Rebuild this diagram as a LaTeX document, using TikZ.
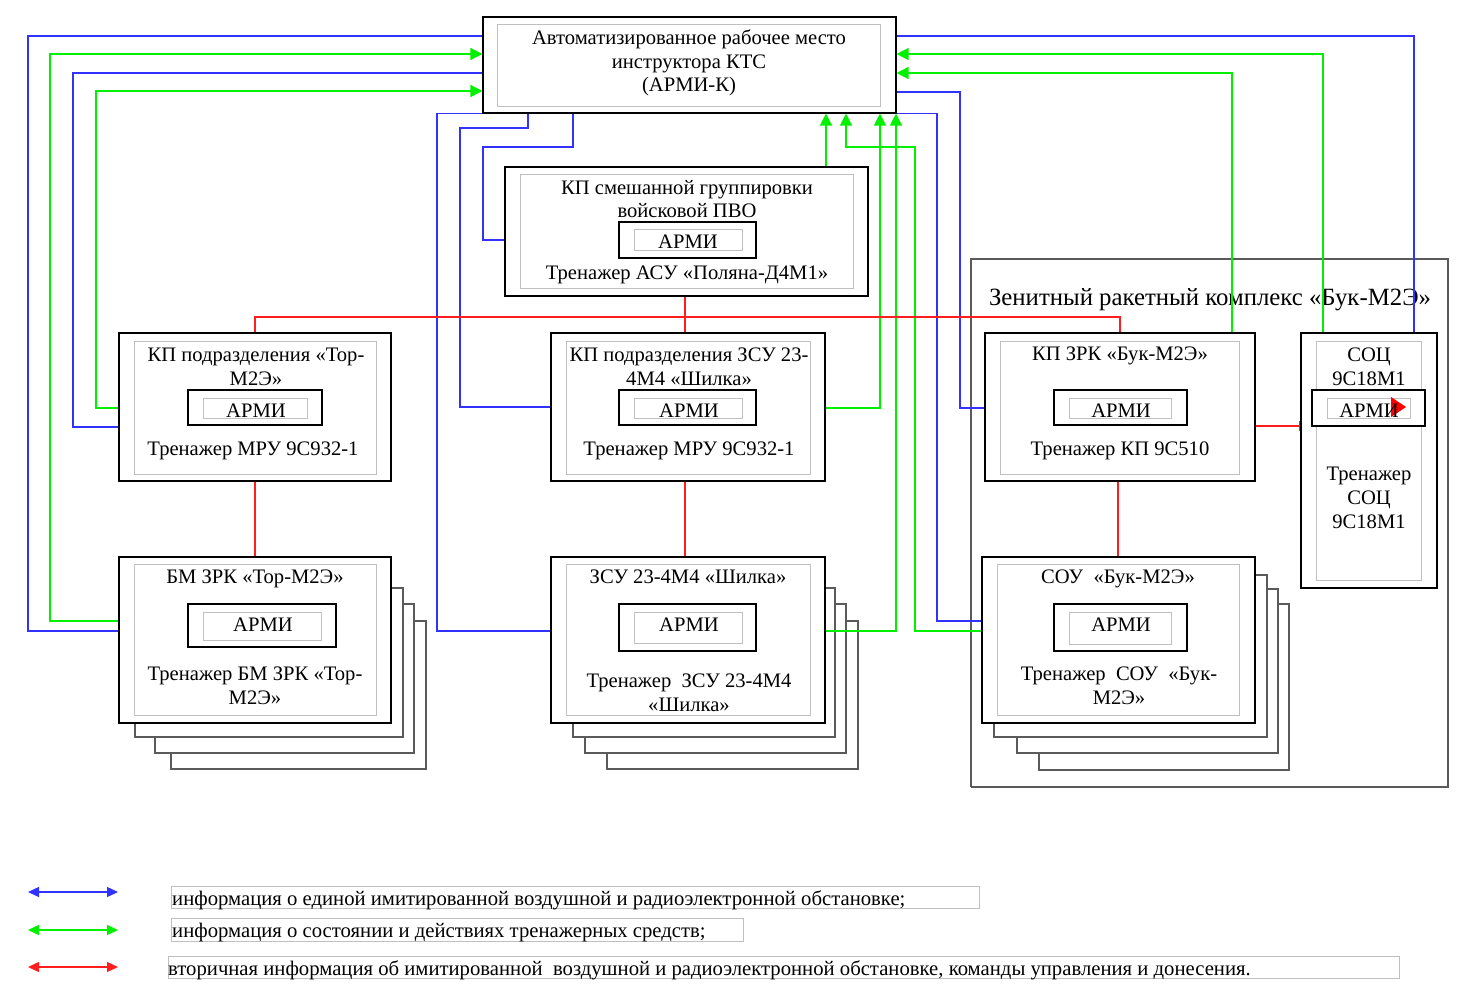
\documentclass[tikz,border=0pt]{standalone}
\usepackage{fontspec}
\setmainfont{Liberation Serif}
\usetikzlibrary{arrows.meta,calc}
\definecolor{cb}{RGB}{50,50,255}
\definecolor{cg}{RGB}{0,240,0}
\definecolor{cr}{RGB}{255,30,30}
\definecolor{cin}{RGB}{192,192,192}
\definecolor{cgrp}{RGB}{90,90,90}
\newcommand\fs{\fontsize{20.6}{23.7}\selectfont}
\newcommand\tfs{\fontsize{24.8}{28}\selectfont}
\newcommand\lfs{\fontsize{20.7}{24}\selectfont}
\newcommand\obox[5]{\node[ob,minimum width=#4,minimum height=#5] (#1) at (#2,#3) {};}
\newcommand\ibox[5]{\node[ib,minimum width=#4,minimum height=#5] (#1) at (#2,#3) {};}
\tikzset{
  ob/.style={draw=black, line width=1.1pt, fill=white, inner sep=0pt},
  ib/.style={draw=cin, line width=1pt, inner sep=0pt},
  bk/.style={draw=cgrp, line width=1.1pt, fill=white},
  txt/.style={align=center, inner sep=0pt, font=\fs},
  one/.style={inner sep=0pt, font=\fs, text height=14pt, text depth=4pt},
  lnb/.style={draw=cb, line width=1.3pt},
  lng/.style={draw=cg, line width=1.3pt, -{Triangle[length=12pt,width=12pt]}},
  lnr/.style={draw=cr, line width=1.2pt},
  leg/.style={line width=1.4pt, {Triangle[length=11pt,width=10pt]}-{Triangle[length=11pt,width=10pt]}},
  lt/.style={inner sep=0pt, font=\lfs, text height=14pt, text depth=4pt, anchor=west},
}
\begin{document}
\begin{tikzpicture}[x=1pt,y=-1pt]
\useasboundingbox (0,0) rectangle (1474,998);
% group frame
\draw[draw=cgrp, line width=1.1pt] (971,787) -- (971,259) -- (1448,259) -- (1448,787) -- (971,787);
\node[inner sep=0pt, font=\tfs, text height=16pt, text depth=5pt] (grpt) at (1210,300) {Зенитный ракетный комплекс «Бук-М2Э»};
% back cards
\draw[bk] (171,621) rectangle (426,769);
\draw[bk] (155,604) rectangle (414,753);
\draw[bk] (135,588) rectangle (403,737);
\draw[bk] (607,621) rectangle (858,769);
\draw[bk] (585,604) rectangle (846,753);
\draw[bk] (573,588) rectangle (835,737);
\draw[bk] (1039,604) rectangle (1289,770);
\draw[bk] (1017,589) rectangle (1278,753);
\draw[bk] (994,575) rectangle (1267,737);
% boxes
\obox{top}{689.5}{65}{413}{96}
\ibox{topi}{688.5}{65.5}{383}{81}
\obox{kpsm}{686.5}{231.5}{363}{129}
\ibox{kpsmi}{686.5}{231}{333}{114}
\obox{kpsma}{687.5}{240}{137}{36}
\ibox{kpsmai}{688}{239.5}{108}{21}
\obox{kptor}{255}{407}{272}{148}
\ibox{kptori}{255}{407.5}{242}{133}
\obox{kptora}{255}{407.5}{134}{35}
\ibox{kptorai}{255}{408}{104}{20}
\obox{bm}{255}{640}{272}{166}
\ibox{bmi}{255}{639.5}{242}{151}
\obox{bma}{262}{625.5}{148}{43}
\ibox{bmai}{262}{626}{118}{28}
\obox{kpsh}{688}{407}{274}{148}
\ibox{kpshi}{688}{407.5}{244}{133}
\obox{kpsha}{687.5}{407.5}{137}{35}
\ibox{kpshai}{688}{408}{108}{20}
\obox{zsu}{688}{640}{274}{166}
\ibox{zsui}{688}{639.5}{244}{151}
\obox{zsua}{687.5}{627.5}{137}{47}
\ibox{zsuai}{688}{627.5}{108}{31}
\obox{kpzrk}{1120}{407}{270}{148}
\ibox{kpzrki}{1119.5}{407.5}{239}{133}
\obox{kpzrka}{1120.5}{407.5}{133}{35}
\ibox{kpzrkai}{1120}{408}{102}{20}
\obox{soc}{1369}{460.5}{136}{255}
\ibox{soci}{1368.5}{460.5}{105}{239}
\obox{soca}{1368.5}{408}{113}{36}
\ibox{socai}{1368.5}{408}{83}{20}
\obox{sou}{1118.5}{640}{273}{166}
\ibox{soui}{1118}{639.5}{242}{151}
\obox{soua}{1120.5}{627.5}{133}{47}
\ibox{souai}{1120}{628}{102}{32}
% blue connectors
\draw[lnb] (top.west |- 0,36) -| (28,631) -- (bm.west |- 0,631);
\draw[lnb] (top.west |- 0,73) -| (73,427) -- (kptor.west |- 0,427);
\draw[lnb] (top.south west) -| (437,631) -- (zsu.west |- 0,631);
\draw[lnb] (top.south -| 528,0) |- (460,128) |- (kpsh.west |- 0,407);
\draw[lnb] (top.south -| 573,0) |- (483,147) |- (kpsm.west |- 0,240);
\draw[lnb] (top.east |- 0,92) -| (960,408) -- (kpzrk.west |- 0,408);
\draw[lnb] (top.south east) -| (937,621) -- (sou.west |- 0,621);
\draw[lnb] (top.east |- 0,36) -| (soc.north -| 1414,0);
% green connectors
\draw[lng] (bm.west |- 0,621) -| (50,54) -- (top.west |- 0,54);
\draw[lng] (kptor.west |- 0,408) -| (96,91) -- (top.west |- 0,91);
\draw[lng] (kpsm.north -| 826,0) -- (top.south -| 826,0);
\draw[lng] (sou.west |- 0,631) -| (915,147) -| (top.south -| 846,0);
\draw[lng] (kpsh.east |- 0,408) -| (top.south -| 880,0);
\draw[lng] (zsu.east |- 0,631) -| (top.south -| 896,0);
\draw[lng] (soc.north -| 1323,0) |- (top.east |- 0,54);
\draw[lng] (kpzrk.north -| 1232,0) |- (top.east |- 0,73);
% red connectors
\draw[lnr] (kptor.north) |- (kpzrk.north |- 0,317) -- (kpzrk.north);
\draw[lnr] (kpsm.south -| 685,0) -- (kpsh.north -| 685,0);
\draw[lnr] (kptor.south) -- (bm.north);
\draw[lnr] (kpsh.south -| 685,0) -- (zsu.north -| 685,0);
\draw[lnr] (kpzrk.south -| 1118,0) -- (sou.north -| 1118,0);
\draw[lnr, -{Bar[width=10pt]}] (kpzrk.east |- 0,426) -- (soc.west |- 0,426);
\fill[red] (1391,397) -- (1406,407) -- (1391,417) -- cycle;
% texts
\begin{scope}[yshift=-2pt]
\node[txt] (ttop) at (689,61) {Автоматизированное рабочее место\\инструктора КТС\\(АРМИ-К)};
\node[txt] (tkpsm) at (687,197) {КП смешанной группировки\\войсковой ПВО};
\node[one] (tkpsma) at (688,241) {АРМИ};
\node[one] (tkpsmb) at (687,272) {Тренажер АСУ «Поляна-Д4М1»};
\node[txt] (tkptor) at (256,365) {КП подразделения «Тор-\\М2Э»};
\node[one] (tkptora) at (256,410) {АРМИ};
\node[one] (tkptorb) at (253,448) {Тренажер МРУ 9С932-1};
\node[one] (tbm) at (255,576) {БМ ЗРК «Тор-М2Э»};
\node[one] (tbma) at (263,624) {АРМИ};
\node[txt] (tbmb) at (255,683.5) {Тренажер БМ ЗРК «Тор-\\М2Э»};
\node[txt] (tkpsh) at (689,365) {КП подразделения ЗСУ 23-\\4М4 «Шилка»};
\node[one] (tkpsha) at (689,410) {АРМИ};
\node[one] (tkpshb) at (689,448) {Тренажер МРУ 9С932-1};
\node[one] (tzsu) at (688,576) {ЗСУ 23-4М4 «Шилка»};
\node[one] (tzsua) at (689,624) {АРМИ};
\node[txt] (tzsub) at (689,691) {Тренажер\ \ ЗСУ 23-4М4\\«Шилка»};
\node[one] (tkpzrk) at (1120,353) {КП ЗРК «Бук-М2Э»};
\node[one] (tkpzrka) at (1121,410) {АРМИ};
\node[one] (tkpzrkb) at (1120,448) {Тренажер КП 9С510};
\node[txt] (tsoc) at (1369,365) {СОЦ\\9С18М1};
\node[one] (tsoca) at (1369,410) {АРМИ};
\node[txt] (tsocb) at (1369,496) {Тренажер\\СОЦ\\9С18М1};
\node[one] (tsou) at (1118,576) {СОУ\ \ «Бук-М2Э»};
\node[one] (tsoua) at (1121,624) {АРМИ};
\node[txt] (tsoub) at (1119,683.5) {Тренажер\ \ СОУ\ \ «Бук-\\М2Э»};
\end{scope}
% legend
\coordinate (l1a) at (28,892); \coordinate (l1b) at (118,892);
\coordinate (l2a) at (28,930); \coordinate (l2b) at (118,930);
\coordinate (l3a) at (28,967); \coordinate (l3b) at (118,967);
\draw[leg, cb] (l1a) -- (l1b);
\draw[leg, cg] (l2a) -- (l2b);
\draw[leg, cr] (l3a) -- (l3b);
\node[ib, minimum width=808, minimum height=22, anchor=north west] (lg1) at (171,886) {};
\node[ib, minimum width=572, minimum height=23, anchor=north west] (lg2) at (171,918) {};
\node[ib, minimum width=1231, minimum height=22, anchor=north west] (lg3) at (168,956) {};
\node[lt] (lt1) at ([xshift=1pt,yshift=-2.5pt]lg1.west) {информация о единой имитированной воздушной и радиоэлектронной обстановке;};
\node[lt] (lt2) at ([xshift=1pt,yshift=-2.5pt]lg2.west) {информация о состоянии и действиях тренажерных\ средств;};
\node[lt] (lt3) at ([xshift=0pt,yshift=-2.5pt]lg3.west) {вторичная информация об имитированной\ \ воздушной и радиоэлектронной обстановке, команды управления и донесения.};
\end{tikzpicture}
\end{document}
